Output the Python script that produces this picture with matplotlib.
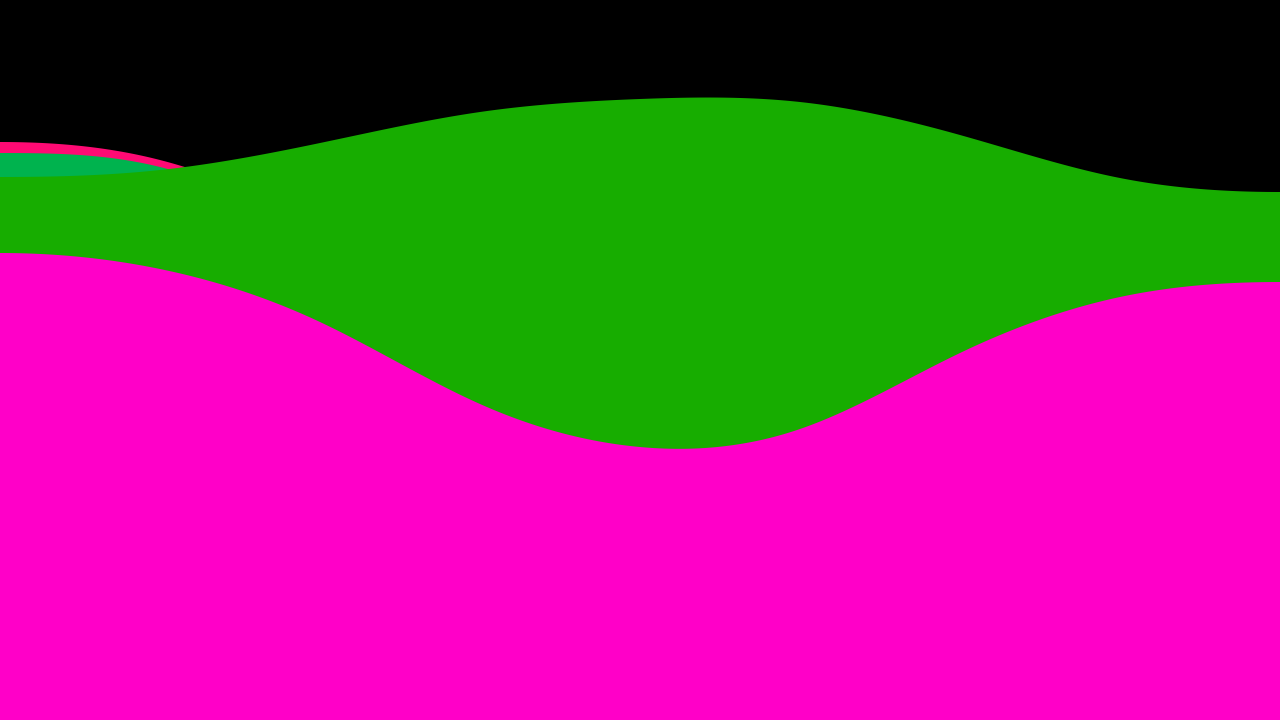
import numpy as np
import matplotlib
matplotlib.use("Agg")
import matplotlib.pyplot as plt

# sample positions along the x axis
x = [0, 160, 320, 480, 640, 800, 960, 1120, 1280]

red = [578, 560, 500, 440, 420, 420, 420, 420, 420]
teal = [567, 553, 490, 430, 410, 410, 410, 410, 410]
green = [543, 550, 577, 608, 621, 618, 585, 542, 528]
magenta = [467, 451, 398, 316, 273, 291, 367, 423, 438]

series = [red, teal, green, magenta]
colors = ["#ff0a74", "#00b34e", "#17ad00", "#ff00c8"]


def spline(xs, ys, xq):
    # cubic spline with flat ends
    xs = np.asarray(xs, float)
    ys = np.asarray(ys, float)
    n = len(xs)
    h = np.diff(xs)
    A = np.zeros((n, n))
    b = np.zeros(n)
    A[0, 0], A[0, 1] = 2 * h[0], h[0]
    b[0] = 6 * ((ys[1] - ys[0]) / h[0])
    A[-1, -2], A[-1, -1] = h[-1], 2 * h[-1]
    b[-1] = 6 * (0 - (ys[-1] - ys[-2]) / h[-1])
    for i in range(1, n - 1):
        A[i, i - 1] = h[i - 1]
        A[i, i] = 2 * (h[i - 1] + h[i])
        A[i, i + 1] = h[i]
        b[i] = 6 * ((ys[i + 1] - ys[i]) / h[i] - (ys[i] - ys[i - 1]) / h[i - 1])
    M = np.linalg.solve(A, b)
    idx = np.clip(np.searchsorted(xs, xq) - 1, 0, n - 2)
    x0, x1 = xs[idx], xs[idx + 1]
    hh = h[idx]
    return (M[idx] * (x1 - xq) ** 3 / (6 * hh) + M[idx + 1] * (xq - x0) ** 3 / (6 * hh)
            + (ys[idx] / hh - M[idx] * hh / 6) * (x1 - xq)
            + (ys[idx + 1] / hh - M[idx + 1] * hh / 6) * (xq - x0))


fig = plt.figure(figsize=(12.8, 7.2), dpi=100)
fig.patch.set_facecolor("black")
ax = fig.add_axes([0, 0, 1, 1])
ax.set_facecolor("black")

xs = np.linspace(x[0], x[-1], 1281)
for vals, c in zip(series, colors):
    ax.fill_between(xs, 0, spline(x, vals, xs), color=c, linewidth=0)

ax.set_xlim(x[0], x[-1])
ax.set_ylim(0, 720)
ax.axis("off")

fig.savefig("out.png", dpi=100, facecolor="black")
